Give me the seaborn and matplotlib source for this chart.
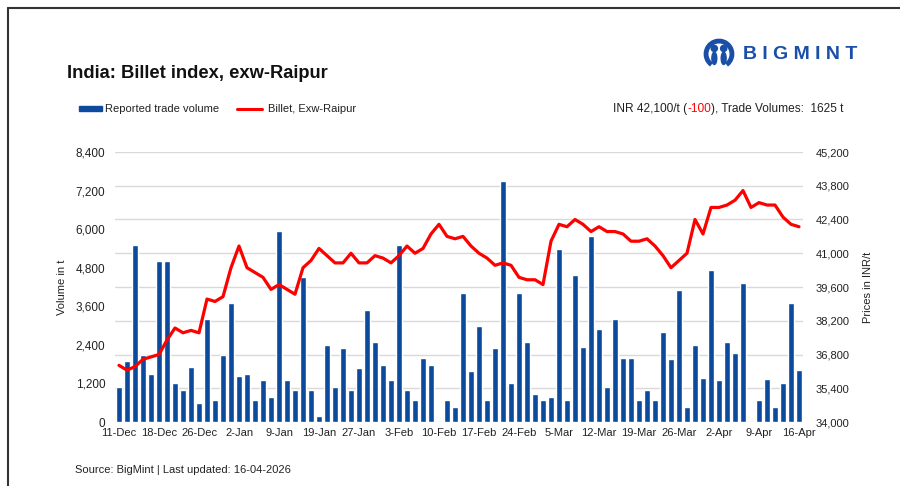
import matplotlib
matplotlib.use("Agg")
import matplotlib.pyplot as plt
from matplotlib.lines import Line2D
from matplotlib.patches import Rectangle, Circle, Ellipse, Arc
import numpy as np
import pandas as pd
import seaborn as sns

# trading days shown on the x axis
dec_days = [11, 12, 15, 16, 17, 18, 19, 22, 23, 24, 26, 29, 30, 31]
jan_days = [1, 2, 5, 6, 7, 8, 9, 12, 13, 14, 16, 19, 20, 21, 22, 23, 27, 28, 29, 30]
feb_days = [2, 3, 4, 5, 6, 9, 10, 11, 12, 13, 16, 17, 18, 19, 20, 23, 24, 25, 26, 27]
mar_days = [2, 5, 6, 9, 10, 11, 12, 13, 16, 17, 18, 19, 20, 23, 24, 25, 26, 27, 30, 31]
apr_days = [1, 2, 3, 6, 7, 8, 9, 10, 13, 14, 15, 16]

dates = ([f"{d}-Dec" for d in dec_days] + [f"{d}-Jan" for d in jan_days]
         + [f"{d}-Feb" for d in feb_days] + [f"{d}-Mar" for d in mar_days]
         + [f"{d}-Apr" for d in apr_days])

volume = [1100, 1900, 5500, 2100, 1500, 5000, 5000, 1200, 1000, 1700,
          600, 3200, 700, 2100, 3700, 1430, 1500, 700, 1300, 780,
          5950, 1300, 1000, 4500, 1000, 200, 2400, 1090, 2300, 1000,
          1680, 3500, 2500, 1780, 1300, 5500, 1000, 700, 2000, 1780,
          0, 700, 480, 4000, 1590, 3000, 700, 2300, 7500, 1200,
          4000, 2500, 870, 700, 780, 5380, 700, 4580, 2330, 5800,
          2900, 1090, 3200, 2000, 2000, 700, 1000, 700, 2800, 1950,
          4100, 480, 2400, 1360, 4740, 1300, 2480, 2150, 4340, 0,
          700, 1330, 480, 1200, 3700, 1625]

price = [36350, 36150, 36300, 36600, 36700, 36800, 37400, 37900, 37700, 37800,
         37700, 39100, 39000, 39200, 40400, 41300, 40400, 40200, 40000, 39500,
         39700, 39500, 39300, 40400, 40700, 41200, 40900, 40600, 40600, 41000,
         40600, 40600, 40900, 40800, 40600, 40900, 41300, 41000, 41200, 41800,
         42200, 41700, 41600, 41700, 41300, 41000, 40800, 40500, 40600, 40500,
         40000, 39900, 39900, 39700, 41500, 42200, 42100, 42400, 42200, 41900,
         42100, 41900, 41900, 41800, 41500, 41500, 41600, 41300, 40900, 40400,
         40700, 41000, 42400, 41800, 42900, 42900, 43000, 43200, 43600, 42900,
         43100, 43000, 43000, 42500, 42200, 42100]

vol_ticks = [0, 1200, 2400, 3600, 4800, 6000, 7200, 8400]
price_ticks = [34000, 35400, 36800, 38200, 39600, 41000, 42400, 43800, 45200]

df = pd.DataFrame({"date": dates, "volume": volume, "price": price})

BLUE = "#0b4a9c"
RED = "#ff0000"
TXT = "#222222"
LOGO = "#1a4fa8"

sns.set_theme(style="white")
plt.rcParams["font.family"] = ["Liberation Sans", "DejaVu Sans"]

fig = plt.figure(figsize=(9, 4.86), dpi=100)
ax = fig.add_axes([115 / 900, 1 - 422 / 486, 688 / 900, 270 / 486])

# light grid lines follow the right axis ticks, drawn behind the bars
for g in np.linspace(0, 8400, 9):
    ax.axhline(g, color="#d9d9d9", lw=1, zorder=0)

sns.barplot(data=df, x="date", y="volume", color=BLUE, saturation=1,
            width=0.8, ax=ax, zorder=2)
ax.set_xlim(-0.5, len(dates) - 0.5)
ax.set_ylim(0, 8400)
ax.set_yticks(vol_ticks)
ax.set_yticklabels([f"{v:,}" for v in vol_ticks])
ax.set_xticks(range(0, len(dates), 5))
ax.set_xticklabels(dates[::5])
ax.set_xlabel("")
ax.set_ylabel("Volume in t", fontsize=8, color=TXT, labelpad=6)
ax.tick_params(axis="x", labelsize=8, colors=TXT, length=0, pad=4)
ax.tick_params(axis="y", labelsize=8.5, colors=TXT, length=0, pad=7)
for s in ax.spines.values():
    s.set_visible(False)

ax2 = ax.twinx()
sns.lineplot(x=np.arange(len(dates)), y=df["price"], color=RED, lw=2.3, ax=ax2)
ax2.set_ylim(34000, 45200)
ax2.set_yticks(price_ticks)
ax2.set_yticklabels([f"{v:,}" for v in price_ticks])
ax2.set_ylabel("Prices in INR/t", fontsize=8, color=TXT, labelpad=10)
ax2.tick_params(axis="y", labelsize=8, colors=TXT, length=0, pad=9)
for s in ax2.spines.values():
    s.set_visible(False)

# title, legend, headline, footer
fig.text(67 / 900, 1 - 74 / 486, "India: Billet index, exw-Raipur", fontsize=13.2,
         fontweight="bold", color="#111111", va="center")
fig.patches.append(Rectangle((79 / 900, 1 - 111 / 486), 23 / 900, 5 / 486,
                             transform=fig.transFigure, color=BLUE))
fig.text(105 / 900, 1 - 109 / 486, "Reported trade volume", fontsize=8,
         color=TXT, va="center")
fig.lines.append(Line2D([237 / 900, 262 / 900], [1 - 109 / 486] * 2,
                        transform=fig.transFigure, color=RED, lw=2.2))
fig.text(268 / 900, 1 - 109 / 486, "Billet, Exw-Raipur", fontsize=8,
         color=TXT, va="center")

hx, hy = 613 / 900, 1 - 109 / 486
t1 = fig.text(hx, hy, "INR 42,100/t (", fontsize=8.6, color=TXT, va="center")
fig.canvas.draw()
rend = fig.canvas.get_renderer()
bb = t1.get_window_extent(renderer=rend)
t2 = fig.text(bb.x1 / 900, hy, "-100", fontsize=8.6, color=RED, va="center")
bb = t2.get_window_extent(renderer=rend)
fig.text(bb.x1 / 900, hy, "), Trade Volumes:  1625 t", fontsize=8.6,
         color=TXT, va="center")

fig.text(75 / 900, 1 - 470 / 486, "Source: BigMint | Last updated: 16-04-2026",
         fontsize=8, color=TXT, va="center")

# logo: ring with two figures, then the word mark
lax = fig.add_axes([703 / 900, 1 - 70 / 486, 32 / 900, 32 / 486])
lax.set_xlim(-1.3, 1.3)
lax.set_ylim(-1.3, 1.3)
lax.set_aspect("equal")
lax.axis("off")
lax.add_patch(Arc((0, 0), 2.1, 2.1, theta1=-55, theta2=235, color=LOGO, lw=3.5))
for cx in (-0.38, 0.38):
    lax.add_patch(Circle((cx, 0.45), 0.25, color=LOGO))
    lax.add_patch(Ellipse((cx, -0.35), 0.4, 1.0, color=LOGO))
fig.text(743 / 900, 1 - 54 / 486, "B I G M I N T", fontsize=14, fontweight="bold",
         color=LOGO, va="center")

# page frame
fig.lines.append(Line2D([8 / 900, 8 / 900], [0, 1 - 8 / 486],
                        transform=fig.transFigure, color="#333333", lw=1.5))
fig.lines.append(Line2D([8 / 900, 1], [1 - 8 / 486] * 2,
                        transform=fig.transFigure, color="#333333", lw=1.5))

fig.savefig("out.png", dpi=100)
